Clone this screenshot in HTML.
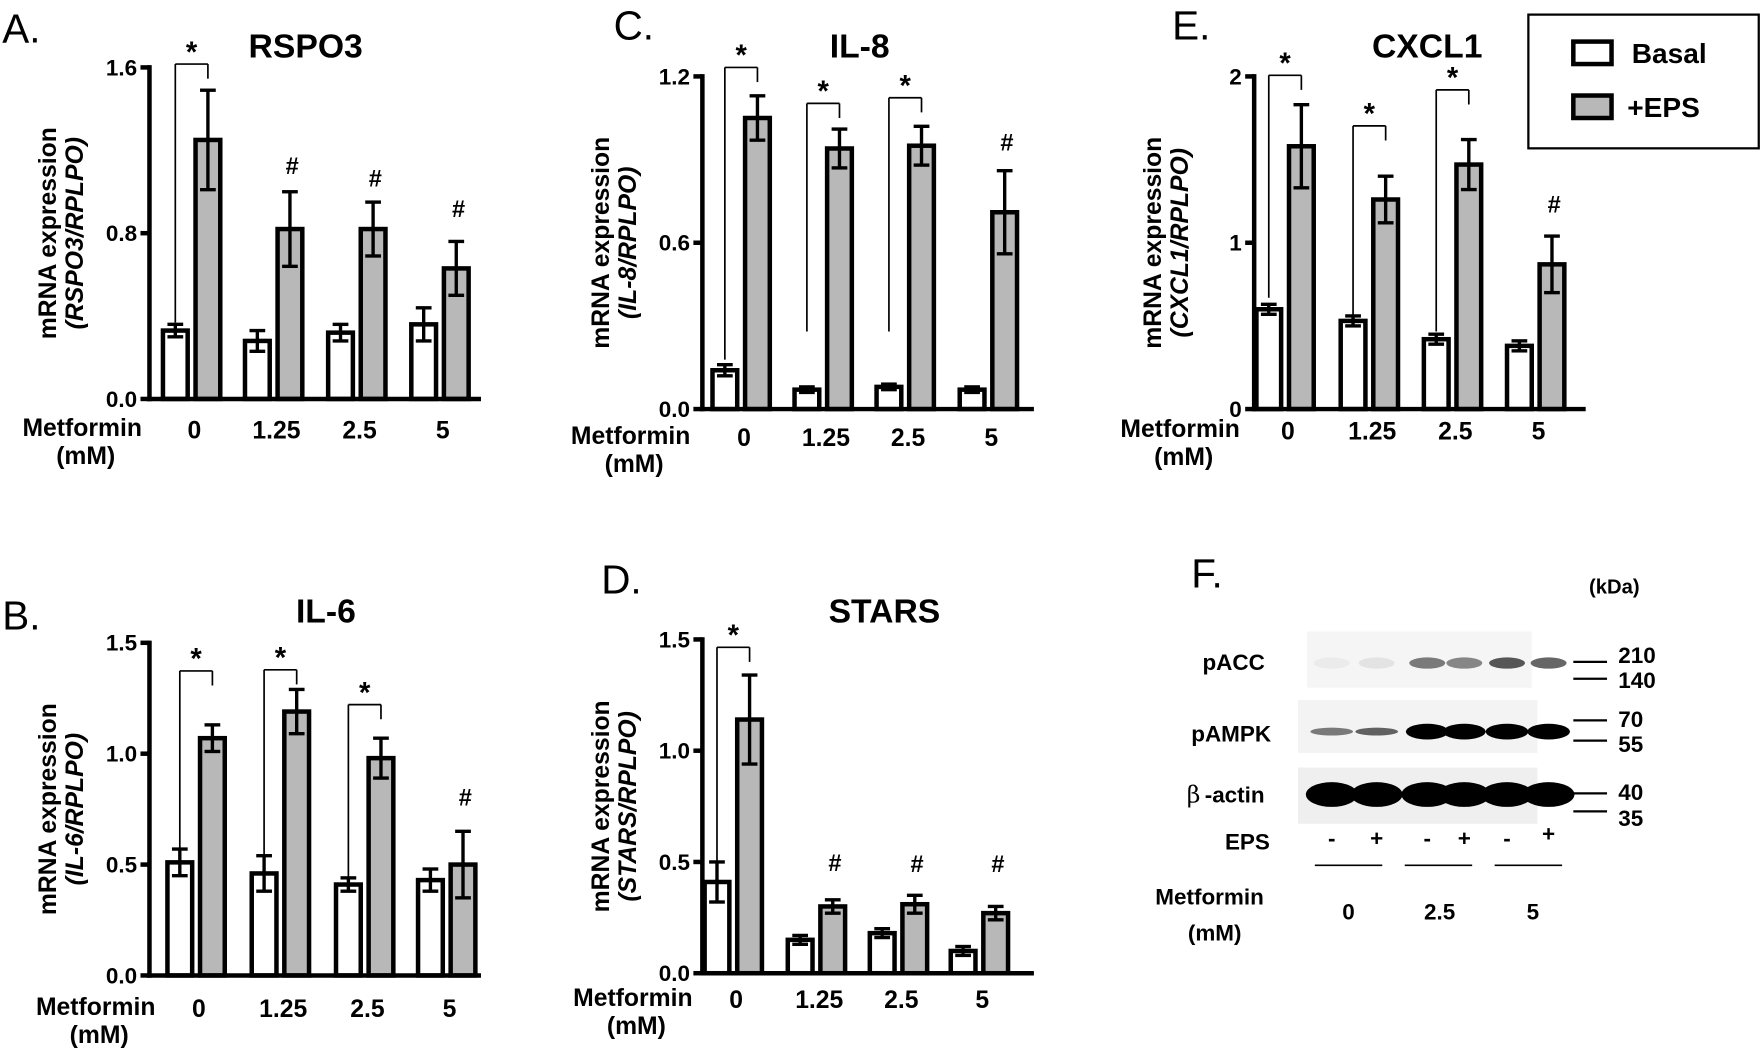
<!DOCTYPE html>
<html><head><meta charset="utf-8"><style>
html,body{margin:0;padding:0;background:#fff;}
svg{display:block;font-family:"Liberation Sans",Arial,sans-serif;}
</style></head><body>
<svg id="s" width="1761" height="1053" viewBox="0 0 1567 937" preserveAspectRatio="none" xmlns="http://www.w3.org/2000/svg"></svg>
<script>
var o='';
function T(x,y,t,sz,a,ex){o+='<text x="'+x+'" y="'+y+'" font-size="'+sz+'" font-weight="'+(ex&&ex.n?'normal':'bold')+'" text-anchor="'+(a||'start')+'"'+(ex&&ex.it?' font-style="italic"':'')+(ex&&ex.tr?' transform="'+ex.tr+'"':'')+'>'+t+'</text>';}
function L(x1,y1,x2,y2,w){o+='<line x1="'+x1+'" y1="'+y1+'" x2="'+x2+'" y2="'+y2+'" stroke="#000" stroke-width="'+(w||4)+'"/>';}
function panel(p){
 var ax=p.ax,y0=p.y0,yt=p.yt,max=p.max,xe=ax+295;
 function Y(v){return y0-(y0-yt)*v/max;}
 for(var i=0;i<4;i++){
  var bc=p.bc[i],ec=bc+29,bw=22;
  [[bc,p.b[i],p.be[i],'#fff'],[ec,p.e[i],p.ee[i],'#b8b8b8']].forEach(function(d){
   var yy=Y(d[1]);
   o+='<rect x="'+(d[0]-bw/2)+'" y="'+yy+'" width="'+bw+'" height="'+(y0-yy)+'" fill="'+d[3]+'" stroke="#000" stroke-width="4"/>';
   var y1=Y(d[1]+d[2]),y2=Y(d[1]-d[2]);
   L(d[0],y1,d[0],y2,3);L(d[0]-7,y1,d[0]+7,y1,3);L(d[0]-7,y2,d[0]+7,y2,3);
  });
  if(p.br[i]){var t=p.br[i];L(bc,t[0],bc,t[1],1.5);L(bc,t[1],ec,t[1],1.5);L(ec,t[1],ec,t[1]+13,1.5);T((bc+ec)/2,t[1]-2,'*',26,'middle');}
  if(p.hs[i]){T(ec+2,p.hs[i],'#',21,'middle');}
 }
 L(ax,yt-2,ax,y0+2,4);L(ax-2,y0,xe,y0,4);
 p.ticks.forEach(function(t){var y=Y(t[0]);L(ax-8,y,ax,y,4);T(ax-11,y+7,t[1],20,'end');});
 var labs=['0','1.25','2.5','5'];
 for(i=0;i<4;i++)T(p.bc[i]+17,p.xl,labs[i],22,'middle');
 T(p.mx,p.xl-2,'Metformin',22,'start');T(p.mx+30,p.xl+23,'(mM)',22,'start');
 T(p.tx,p.ty,p.title,30,'middle');
 T(p.lx,p.ly,p.letter,36,'start',{n:1});
 var cy=(y0+yt)/2;
 T(ax-83,cy,'mRNA expression',22,'middle',{tr:'rotate(-90 '+(ax-83)+' '+cy+')'});
 T(ax-59,cy,'('+p.yl+'/RPLPO)',22,'middle',{it:1,tr:'rotate(-90 '+(ax-59)+' '+cy+')'});
}
panel({ax:133,y0:355,yt:60,max:1.6,bc:[156,229,303,377],b:[.33,.28,.32,.36],be:[.03,.05,.04,.08],e:[1.25,.82,.82,.63],ee:[.24,.18,.13,.13],
 br:[[287,57],0,0,0],hs:[0,155,166,193],ticks:[[1.6,'1.6'],[.8,'0.8'],[0,'0.0']],xl:390,mx:20,tx:272,ty:51,title:'RSPO3',lx:2,ly:38,letter:'A.',yl:'RSPO3'});
panel({ax:625,y0:364,yt:68,max:1.2,bc:[645,718,791,865],b:[.14,.07,.08,.07],be:[.02,.01,.01,.01],e:[1.05,.94,.95,.71],ee:[.08,.07,.07,.15],
 br:[[320,60],[295,92],[295,87],0],hs:[0,0,0,134],ticks:[[1.2,'1.2'],[.6,'0.6'],[0,'0.0']],xl:397,mx:508,tx:765,ty:51,title:'IL-8',lx:546,ly:35,letter:'C.',yl:'IL-8'});
panel({ax:1116,y0:364,yt:68,max:2,bc:[1129,1204,1278,1352],b:[.6,.53,.42,.38],be:[.03,.03,.03,.03],e:[1.58,1.26,1.47,.87],ee:[.25,.14,.15,.17],
 br:[[265,67],[280,112],[295,80],0],hs:[0,0,0,189],ticks:[[2,'2'],[1,'1'],[0,'0']],xl:391,mx:997,tx:1270,ty:51,title:'CXCL1',lx:1043,ly:35,letter:'E.',yl:'CXCL1'});
panel({ax:133,y0:868,yt:572,max:1.5,bc:[160,235,310,383],b:[.51,.46,.41,.43],be:[.06,.08,.03,.05],e:[1.07,1.19,.98,.5],ee:[.06,.1,.09,.15],
 br:[[762,597],[770,596],[790,627],0],hs:[0,0,0,717],ticks:[[1.5,'1.5'],[1,'1.0'],[.5,'0.5'],[0,'0.0']],xl:905,mx:32,tx:290,ty:554,title:'IL-6',lx:2,ly:560,letter:'B.',yl:'IL-6'});
panel({ax:625,y0:866,yt:569,max:1.5,bc:[638,712,785,857],b:[.41,.15,.18,.1],be:[.09,.02,.02,.02],e:[1.14,.3,.31,.27],ee:[.2,.03,.04,.03],
 br:[[780,576],0,0,0],hs:[0,775,776,776],ticks:[[1.5,'1.5'],[1,'1.0'],[.5,'0.5'],[0,'0.0']],xl:897,mx:510,tx:787,ty:554,title:'STARS',lx:535,ly:528,letter:'D.',yl:'STARS'});
o+='<rect x="1360" y="13" width="205" height="119" fill="#fff" stroke="#000" stroke-width="2"/>';
o+='<rect x="1400" y="37" width="34" height="20" fill="#fff" stroke="#000" stroke-width="4"/>';
o+='<rect x="1400" y="85" width="34" height="20" fill="#b8b8b8" stroke="#000" stroke-width="4"/>';
T(1452,56,'Basal',25);T(1448,104,'+EPS',25);
T(1060,523,'F.',36,'start',{n:1});T(1414,528,'(kDa)',18);
var lanes=[1185,1225,1270,1303,1341,1378];
o+='<rect x="1163" y="562" width="200" height="50" fill="#f5f5f5"/>';
o+='<rect x="1155" y="623" width="213" height="47" fill="#f3f3f3"/>';
o+='<rect x="1155" y="683" width="213" height="50" fill="#efefef"/>';
var pa=[.04,.07,.5,.45,.65,.6],pk=[.5,.6,1,1,1,1];
lanes.forEach(function(x,i){
 o+='<ellipse cx="'+x+'" cy="590" rx="16" ry="5" fill="#000" opacity="'+pa[i]+'"/>';
 o+='<ellipse cx="'+x+'" cy="651" rx="19" ry="'+(i<2?3.5:7)+'" fill="#000" opacity="'+pk[i]+'"/>';
 o+='<ellipse cx="'+x+'" cy="707" rx="23" ry="11" fill="#000"/>';
});
[[589,'210',590],[604,'140',612],[641,'70',647],[659,'55',669],[706,'40',712],[722,'35',735]].forEach(function(m){L(1400,m[0],1430,m[0],2);T(1440,m[2],m[1],20);});
T(1070,596,'pACC',20);T(1060,660,'pAMPK',20);
o+='<text x="1056" y="714" font-size="21" font-family="DejaVu Serif,serif">β</text>';T(1072,714,'-actin',20);
T(1090,756,'EPS',20);
['-','+','-','+','-','+'].forEach(function(s,i){T(lanes[i],i==5?749:753,s,20,'middle');});
L(1170,770,1230,770,1.5);L(1250,770,1310,770,1.5);L(1330,770,1390,770,1.5);
T(1028,805,'Metformin',20);T(1057,837,'(mM)',20);T(1200,818,'0',20,'middle');T(1281,818,'2.5',20,'middle');T(1364,818,'5',20,'middle');
document.getElementById('s').innerHTML=o;
</script>
</body></html>
